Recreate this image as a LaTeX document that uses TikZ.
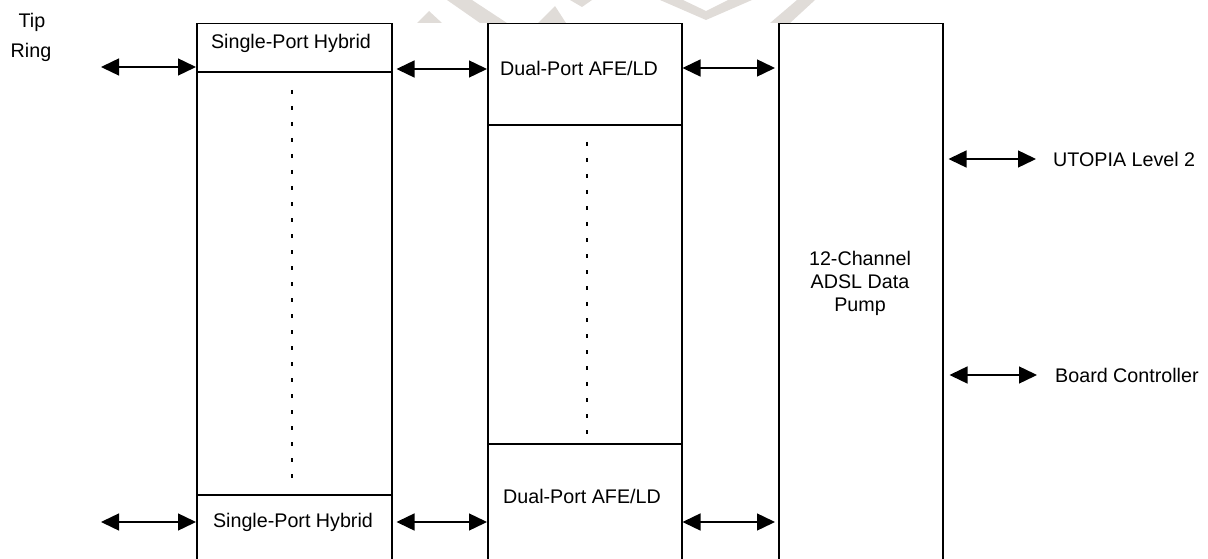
\documentclass[tikz,border=0pt]{standalone}
\usepackage{fontspec}
\setmainfont{Liberation Sans}
\usetikzlibrary{arrows.meta}
\definecolor{wmark}{RGB}{224,220,216}
\tikzset{
  colbox/.style={draw=black, line width=1.5pt, rectangle, inner sep=0pt, anchor=north west},
  divider/.style={line width=2.7pt},
  biarrow/.style={line width=1.4pt, {Triangle[length=18pt,width=17pt]}-{Triangle[length=18pt,width=17pt]}},
  lbl/.style={font=\fontsize{19.7}{23}\selectfont, inner sep=0pt},
  dotline/.style={line width=2pt, dash pattern=on 4pt off 12pt},
}
\begin{document}
\begin{tikzpicture}[x=1pt,y=-1pt]
\useasboundingbox (0,0) rectangle (1208,559);
\clip (0,0) rectangle (1208,559);
% watermark fragments
\fill[wmark] (417,23) -- (429,11) -- (442,23) -- cycle;
\fill[wmark] (447,0) -- (472,0) -- (507,23) -- (480,23) -- cycle;
\fill[wmark] (538,23) -- (555,6) -- (566,23) -- cycle;
\fill[wmark] (570,0) -- (592,0) -- (582,7) -- cycle;
\fill[wmark] (660,0) -- (683,0) -- (706,11) -- (728,0) -- (752,0) -- (706,20) -- cycle;
\fill[wmark] (797,0) -- (815,0) -- (790,23) -- (770,23) -- cycle;
% columns
\node[colbox, minimum width=195pt, minimum height=560pt] (col1) at (196,23) {};
\node[colbox, minimum width=194pt, minimum height=560pt] (col2) at (487,23) {};
\node[colbox, minimum width=164pt, minimum height=560pt] (col3) at (778,23) {};
% dividers
\coordinate (d1) at (0,72);
\coordinate (d2) at (0,495);
\coordinate (d3) at (0,125);
\coordinate (d4) at (0,444);
\draw[divider] (col1.west |- d1) -- (col1.east |- d1);
\draw[divider] (col1.west |- d2) -- (col1.east |- d2);
\draw[divider] (col2.west |- d3) -- (col2.east |- d3);
\draw[divider] (col2.west |- d4) -- (col2.east |- d4);
% labels
\node[lbl] (hyb1) at (291,43) {Single-Port Hybrid};
\node[lbl] (hyb2) at (293,522) {Single-Port Hybrid};
\node[lbl] (afe1) at (579,68) {Dual-Port AFE/LD};
\node[lbl] (afe2) at (582,496) {Dual-Port AFE/LD};
\node[lbl, align=center] (pump) at (860,283) {12-Channel\\ADSL Data\\Pump};
\node[lbl] (tip) at (32,22) {Tip};
\node[lbl] (ring) at (31,52) {Ring};
\node[lbl, anchor=west] (utopia) at (1053,159) {UTOPIA Level 2};
\node[lbl, anchor=west] (board) at (1055,375) {Board Controller};
% dotted lines
\coordinate (dt1a) at (292,90);
\coordinate (dt1b) at (292,478);
\coordinate (dt2a) at (587,142);
\coordinate (dt2b) at (587,435);
\draw[dotline] (dt1a) -- (dt1b);
\draw[dotline] (dt2a) -- (dt2b);
% connectors
\coordinate (lineA) at (101,67);
\coordinate (lineB) at (101,522);
\draw[biarrow] (lineA) -- (lineA -| col1.west);
\draw[biarrow] (lineB) -- (lineB -| col1.west);
\coordinate (m1) at (0,69);
\coordinate (m2) at (0,522);
\draw[biarrow, shorten <=4pt] (col1.east |- m1) -- (col2.west |- m1);
\draw[biarrow, shorten <=4pt] (col1.east |- m2) -- (col2.west |- m2);
\coordinate (n1) at (0,68);
\draw[biarrow, shorten >=3pt] (col2.east |- n1) -- (col3.west |- n1);
\draw[biarrow, shorten >=3pt] (col2.east |- m2) -- (col3.west |- m2);
\coordinate (u1) at (1036,159);
\coordinate (b1) at (1037,375);
\draw[biarrow, shorten <=5pt] (col3.east |- u1) -- (u1);
\draw[biarrow, shorten <=6pt] (col3.east |- b1) -- (b1);
\end{tikzpicture}
\end{document}
